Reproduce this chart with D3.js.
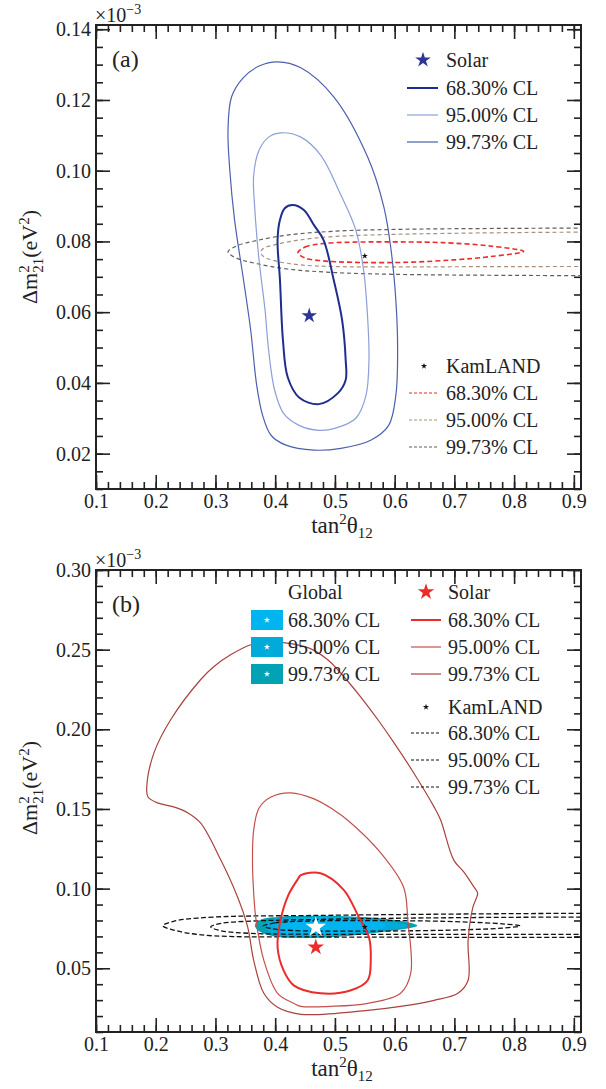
<!DOCTYPE html>
<html>
<head>
<meta charset="utf-8">
<title>Solar, KamLAND and global contours</title>
<script src="https://cdn.jsdelivr.net/npm/d3@7"></script>
<style>
  body { margin: 0; background: #fff; }
  svg, svg text { font-family: "Liberation Serif", "DejaVu Serif", serif; }
</style>
</head>
<body>
<script>
// ---- data (x = tan^2 theta12, y = dm^2_21 in 1e-3 eV^2) ----
var xTicks = [0.1, 0.2, 0.3, 0.4, 0.5, 0.6, 0.7, 0.8, 0.9];
var yTicksA = [0.02, 0.04, 0.06, 0.08, 0.10, 0.12, 0.14];
var yTicksB = [0.05, 0.10, 0.15, 0.20, 0.25, 0.30];
var clLabels = ["68.30% CL", "95.00% CL", "99.73% CL"];

// panel (a)
var solarA68 = [[0.429,0.0903],[0.448,0.0889],[0.465,0.0846],[0.481,0.0804],[0.498,0.0691],[0.512,0.0578],
  [0.518,0.0465],[0.518,0.0408],[0.505,0.0371],[0.473,0.0340],[0.440,0.0359],[0.421,0.0416],[0.413,0.0521],
  [0.408,0.0691],[0.404,0.0804],[0.408,0.0861],[0.416,0.0894]];
var solarA95 = [[0.409,0.1107],[0.443,0.1095],[0.476,0.1044],[0.510,0.0931],[0.535,0.0832],[0.548,0.0719],
  [0.555,0.0578],[0.557,0.0465],[0.552,0.0365],[0.535,0.0300],[0.501,0.0272],[0.473,0.0266],[0.440,0.0280],
  [0.414,0.0314],[0.399,0.0380],[0.389,0.0493],[0.383,0.0606],[0.373,0.0747],[0.366,0.0889],[0.364,0.0987],
  [0.373,0.1058],[0.389,0.1095]];
var solarA99 = [[0.404,0.1308],[0.443,0.1291],[0.498,0.1209],[0.555,0.1038],[0.582,0.0897],[0.594,0.0776],
  [0.602,0.0634],[0.605,0.0493],[0.602,0.0365],[0.590,0.0280],[0.560,0.0238],[0.510,0.0215],[0.465,0.0210],
  [0.418,0.0224],[0.393,0.0252],[0.379,0.0308],[0.369,0.0394],[0.359,0.0549],[0.347,0.0691],[0.332,0.0861],
  [0.324,0.1002],[0.321,0.1115],[0.327,0.1209],[0.346,0.1262],[0.373,0.1296]];
var kamA68 = [[0.438,0.0768],[0.45,0.0784],[0.48,0.0794],[0.53,0.0798],[0.65,0.0798],[0.70,0.0795],[0.76,0.0787],
  [0.816,0.0772],[0.76,0.0757],[0.70,0.0748],[0.62,0.0741],[0.53,0.0741],[0.48,0.0745],[0.45,0.0753]];
var kamA95 = [[1.0,0.0827],[0.8,0.0825],[0.6,0.0820],[0.5,0.0814],[0.44,0.0804],[0.40,0.0791],[0.38,0.0780],
  [0.376,0.0770],[0.38,0.0758],[0.40,0.0745],[0.44,0.0734],[0.5,0.0729],[0.6,0.0728],[0.8,0.0729],[1.0,0.0729]];
var kamA99 = [[1.0,0.0838],[0.8,0.0837],[0.6,0.0834],[0.5,0.0829],[0.42,0.0818],[0.37,0.0803],[0.335,0.0787],
  [0.321,0.0770],[0.335,0.0753],[0.37,0.0737],[0.42,0.0722],[0.5,0.0712],[0.6,0.0707],[0.8,0.0704],[1.0,0.0703]];
var solarBestA = [0.457, 0.059];
var kamBest = [0.550, 0.0759];

// panel (b)
var solarB68 = [[0.443,0.1085],[0.476,0.1097],[0.515,0.0991],[0.540,0.0821],[0.557,0.0695],[0.560,0.0550],
  [0.555,0.0425],[0.527,0.0362],[0.476,0.0343],[0.431,0.0393],[0.414,0.0487],[0.404,0.0632],[0.409,0.0802],
  [0.422,0.0959],[0.438,0.1060]];
var solarB95 = [[0.364,0.1368],[0.373,0.1506],[0.393,0.1575],[0.426,0.1601],[0.465,0.1563],[0.498,0.1494],
  [0.521,0.1431],[0.577,0.1223],[0.615,0.1009],[0.622,0.0802],[0.627,0.0469],[0.610,0.0343],[0.555,0.0280],
  [0.493,0.0261],[0.443,0.0261],[0.431,0.0280],[0.404,0.0343],[0.381,0.0550],[0.368,0.0802],[0.364,0.0972],
  [0.362,0.1179]];
var solarB99 = [[0.384,0.2550],[0.414,0.2544],[0.455,0.2513],[0.488,0.2437],[0.515,0.2330],[0.543,0.2204],
  [0.572,0.2060],[0.599,0.1915],[0.632,0.1726],[0.666,0.1513],[0.677,0.1431],[0.699,0.1179],[0.716,0.1104],
  [0.733,0.1009],[0.739,0.0972],[0.731,0.0884],[0.723,0.0676],[0.723,0.0425],[0.706,0.0343],[0.666,0.0299],
  [0.610,0.0261],[0.555,0.0236],[0.443,0.0211],[0.404,0.0255],[0.381,0.0343],[0.364,0.0550],[0.354,0.0758],
  [0.337,0.0947],[0.309,0.1179],[0.275,0.1412],[0.254,0.1475],[0.230,0.1513],[0.203,0.1538],[0.187,0.1575],
  [0.185,0.1638],[0.197,0.1852],[0.225,0.2060],[0.275,0.2311],[0.297,0.2393],[0.326,0.2469],[0.359,0.2531]];
var globalB68 = [[0.400,0.0770],[0.412,0.0798],[0.44,0.0813],[0.48,0.0817],[0.53,0.0813],[0.565,0.0798],
  [0.585,0.0776],[0.58,0.0753],[0.55,0.0731],[0.50,0.0712],[0.45,0.0709],[0.418,0.0718],[0.404,0.0742]];
var globalB95 = [[0.382,0.0772],[0.392,0.0802],[0.42,0.0818],[0.46,0.0823],[0.52,0.0820],[0.57,0.0806],
  [0.605,0.0786],[0.622,0.0765],[0.60,0.0745],[0.55,0.0722],[0.50,0.0703],[0.44,0.0699],[0.402,0.0708],[0.387,0.0738]];
var globalB99 = [[0.366,0.0772],[0.376,0.0806],[0.41,0.0824],[0.46,0.0829],[0.52,0.0826],[0.58,0.0812],
  [0.62,0.0790],[0.638,0.0767],[0.61,0.0743],[0.56,0.0718],[0.50,0.0697],[0.44,0.0691],[0.40,0.0699],[0.372,0.0736]];
var kamB68 = [[0.38,0.0765],[0.40,0.0785],[0.45,0.0796],[0.55,0.0799],[0.65,0.0797],[0.72,0.0790],[0.78,0.0779],
  [0.81,0.0766],[0.78,0.0752],[0.72,0.0742],[0.62,0.0735],[0.50,0.0733],[0.43,0.0737],[0.395,0.0748]];
var kamB95 = [[1.0,0.0822],[0.8,0.0820],[0.6,0.0814],[0.45,0.0805],[0.36,0.0796],[0.31,0.0782],[0.292,0.0760],
  [0.31,0.0735],[0.36,0.0719],[0.45,0.0714],[0.6,0.0713],[0.8,0.0713],[1.0,0.0713]];
var kamB99 = [[1.0,0.0846],[0.8,0.0843],[0.6,0.0837],[0.45,0.0831],[0.33,0.0826],[0.27,0.0815],[0.23,0.0795],
  [0.212,0.0767],[0.23,0.0740],[0.27,0.0712],[0.33,0.0699],[0.45,0.0697],[0.6,0.0695],[0.8,0.0694],[1.0,0.0694]];
var solarBestB = [0.468, 0.0632];
var globalBest = [0.468, 0.0758];

// ---- layout ----
var width = 606, height = 1089;
var xDomain = [0.1, 0.912];
var ink = "#222";
var serif = "Liberation Serif, DejaVu Serif, serif";

var svg = d3.select("body")
    .append("svg")
    .attr("width", width)
    .attr("height", height)
    .attr("font-family", serif);

function txt(parent) {
  return parent.append("text").attr("font-family", serif).attr("fill", ink);
}

function panel(p) {
  var x = d3.scaleLinear().domain(xDomain).range([96, 581]);
  var y = d3.scaleLinear().domain(p.yDomain).range([p.bottom, p.top]);
  var g = svg.append("g").attr("color", ink);

  var xMinor = d3.range(0.1, 0.9001, 0.02);
  var yMinor = d3.range(p.yDomain[0], p.yDomain[1] + 1e-9, p.yStep);
  var fmt2 = d3.format(".2f"), fmt1 = d3.format(".1f");

  function axis(a, tr, fmt, size, vals) {
    var s = g.append("g").attr("transform", tr)
      .call(a.tickValues(vals).tickSize(size).tickSizeOuter(0).tickPadding(5).tickFormat(fmt));
    s.select(".domain").remove();
    s.attr("font-family", serif);
    s.selectAll("line").attr("stroke-width", 1.6);
    s.selectAll("text").attr("font-size", 20).attr("font-family", serif).attr("fill", ink);
    return s;
  }
  // minor + major ticks on all four sides, pointing inward
  axis(d3.axisBottom(x), "translate(0," + p.bottom + ")", "", -7, xMinor);
  axis(d3.axisTop(x), "translate(0," + p.top + ")", "", -7, xMinor);
  axis(d3.axisLeft(y), "translate(96,0)", "", -7, yMinor);
  axis(d3.axisRight(y), "translate(581,0)", "", -7, yMinor);
  axis(d3.axisBottom(x), "translate(0," + p.bottom + ")", fmt1, -14, xTicks);
  axis(d3.axisTop(x), "translate(0," + p.top + ")", "", -14, xTicks);
  axis(d3.axisLeft(y), "translate(96,0)", fmt2, -14, p.yTicks);
  axis(d3.axisRight(y), "translate(581,0)", "", -14, p.yTicks);

  g.append("rect")
    .attr("x", 96).attr("y", p.top)
    .attr("width", 581 - 96).attr("height", p.bottom - p.top)
    .attr("fill", "none").attr("stroke", ink).attr("stroke-width", 2);

  var id = "clip" + p.name;
  svg.append("clipPath").attr("id", id).append("rect")
    .attr("x", 96).attr("y", p.top).attr("width", 581 - 96).attr("height", p.bottom - p.top);
  var plot = svg.append("g").attr("clip-path", "url(#" + id + ")");

  // x10^-3 multiplier
  var m = txt(svg).attr("x", 95).attr("y", p.top - 3).attr("font-size", 20);
  m.append("tspan").text("\u00d710");
  m.append("tspan").attr("font-size", 14).attr("dy", -8).text("\u22123");

  // panel tag
  txt(svg).attr("x", 112).attr("y", p.top + 42).attr("font-size", 24).text(p.tag);

  // axis titles
  var xt = txt(svg).attr("x", 342).attr("y", p.bottom + 44)
    .attr("text-anchor", "middle").attr("font-size", 23);
  xt.append("tspan").text("tan");
  xt.append("tspan").attr("font-size", 15).attr("dy", -9).text("2");
  xt.append("tspan").attr("dy", 9).text("\u03b8");
  xt.append("tspan").attr("font-size", 15).attr("dy", 5).text("12");

  var yt = txt(svg)
    .attr("transform", "translate(37," + p.titleY + ") rotate(-90)")
    .attr("text-anchor", "middle").attr("font-size", 22);
  yt.append("tspan").text("\u0394m");
  yt.append("tspan").attr("font-size", 15).attr("dy", -8).text("2");
  yt.append("tspan").attr("font-size", 15).attr("dx", -7.5).attr("dy", 14).text("21");
  yt.append("tspan").attr("dy", -6).text("(eV");
  yt.append("tspan").attr("font-size", 15).attr("dy", -8).text("2");
  yt.append("tspan").attr("dy", 8).text(")");

  return { x: x, y: y, plot: plot };
}

function contour(P, pts, o) {
  var closed = o.closed !== false;
  var line = d3.line()
    .x(function(d) { return P.x(d[0]); })
    .y(function(d) { return P.y(d[1]); })
    .curve(closed ? d3.curveCatmullRomClosed.alpha(0.5) : d3.curveCatmullRom.alpha(0.5));
  P.plot.append("path")
    .attr("d", line(pts))
    .attr("fill", o.fill || "none")
    .attr("stroke", o.stroke || "none")
    .attr("stroke-width", o.width || 1)
    .attr("stroke-dasharray", o.dash || null);
}

function star(parent, cx, cy, size, color) {
  parent.append("path")
    .attr("d", d3.symbol().type(d3.symbolStar).size(size)())
    .attr("transform", "translate(" + cx + "," + cy + ")")
    .attr("fill", color);
}

function label(tx, ty, s) {
  txt(svg).attr("x", tx).attr("y", ty).attr("dy", "0.35em")
    .attr("font-size", 20).text(s);
}

// ---- panel (a) ----
var A = panel({ name: "a", tag: "(a)", top: 25, bottom: 489, yDomain: [0.01, 0.1412], yStep: 0.005, yTicks: yTicksA, titleY: 257 });

var solarAStyle = [
  { pts: solarA68, stroke: "#1f2d8f", width: 2 },
  { pts: solarA95, stroke: "#8d9fd8", width: 1.2 },
  { pts: solarA99, stroke: "#4c60ae", width: 1.2 }
];
var kamAStyle = [
  { pts: kamA68, stroke: "#ee2a2a", width: 1.6, dash: "5,3", closed: true },
  { pts: kamA95, stroke: "#a8907e", width: 1.2, dash: "4,3", closed: false },
  { pts: kamA99, stroke: "#5e5e5e", width: 1.2, dash: "4,3", closed: false }
];
kamAStyle.forEach(function(s) { contour(A, s.pts, s); });
solarAStyle.forEach(function(s) { contour(A, s.pts, s); });
star(A.plot, A.x(solarBestA[0]), A.y(solarBestA[1]), 75, "#2b3793");
star(A.plot, A.x(kamBest[0]), A.y(kamBest[1]), 12, "#111");

// legend (a)
star(svg, 423, 60, 75, "#2b3793");
label(446, 60, "Solar");
solarAStyle.forEach(function(s, i) {
  var yy = 88 + i * 27;
  svg.append("line").attr("x1", 407).attr("x2", 438).attr("y1", yy).attr("y2", yy)
    .attr("stroke", s.stroke).attr("stroke-width", s.width);
  label(446, yy, clLabels[i]);
});
star(svg, 424, 366, 12, "#111");
label(446, 366, "KamLAND");
kamAStyle.forEach(function(s, i) {
  var yy = 393 + i * 27;
  svg.append("line").attr("x1", 409).attr("x2", 437).attr("y1", yy).attr("y2", yy)
    .attr("stroke", s.stroke).attr("stroke-width", 1.2).attr("stroke-dasharray", "3,2");
  label(446, yy, clLabels[i]);
});

// ---- panel (b) ----
var B = panel({ name: "b", tag: "(b)", top: 570, bottom: 1032, yDomain: [0.01, 0.30], yStep: 0.01, yTicks: yTicksB, titleY: 788 });

var globalStyle = [
  { pts: globalB99, fill: "#00a2b4" },
  { pts: globalB95, fill: "#00abd9" },
  { pts: globalB68, fill: "#00b5ef" }
];
var solarBStyle = [
  { pts: solarB68, stroke: "#ec2b2b", width: 2 },
  { pts: solarB95, stroke: "#c4504c", width: 1.2 },
  { pts: solarB99, stroke: "#a8423e", width: 1.2 }
];
var kamBStyle = [
  { pts: kamB68, stroke: "#111", width: 1.3, dash: "5,2.5", closed: true },
  { pts: kamB95, stroke: "#111", width: 1.3, dash: "5,2.5", closed: false },
  { pts: kamB99, stroke: "#111", width: 1.3, dash: "5,2.5", closed: false }
];
globalStyle.forEach(function(s) { contour(B, s.pts, s); });
kamBStyle.forEach(function(s) { contour(B, s.pts, s); });
solarBStyle.forEach(function(s) { contour(B, s.pts, s); });
star(B.plot, B.x(globalBest[0]), B.y(globalBest[1]), 130, "#fff");
star(B.plot, B.x(solarBestB[0]), B.y(solarBestB[1]), 85, "#ec2b2b");
star(B.plot, B.x(kamBest[0]), B.y(kamBest[1]), 12, "#111");

// legend (b)
label(288, 592, "Global");
[globalB68, globalB95, globalB99].forEach(function(d, i) {
  var yy = 620 + i * 27;
  svg.append("rect").attr("x", 251).attr("y", yy - 10).attr("width", 32).attr("height", 20)
    .attr("fill", globalStyle[2 - i].fill);
  star(svg, 267, yy, 12, "#fff");
  label(288, yy, clLabels[i]);
});
star(svg, 426, 592, 85, "#ec2b2b");
label(448, 592, "Solar");
solarBStyle.forEach(function(s, i) {
  var yy = 620 + i * 27;
  svg.append("line").attr("x1", 411).attr("x2", 441).attr("y1", yy).attr("y2", yy)
    .attr("stroke", s.stroke).attr("stroke-width", s.width);
  label(448, yy, clLabels[i]);
});
star(svg, 426, 707, 12, "#111");
label(448, 707, "KamLAND");
kamBStyle.forEach(function(s, i) {
  var yy = 733 + i * 27;
  svg.append("line").attr("x1", 411).attr("x2", 439).attr("y1", yy).attr("y2", yy)
    .attr("stroke", "#111").attr("stroke-width", 1.2).attr("stroke-dasharray", "3,2");
  label(448, yy, clLabels[i]);
});
</script>
</body>
</html>
